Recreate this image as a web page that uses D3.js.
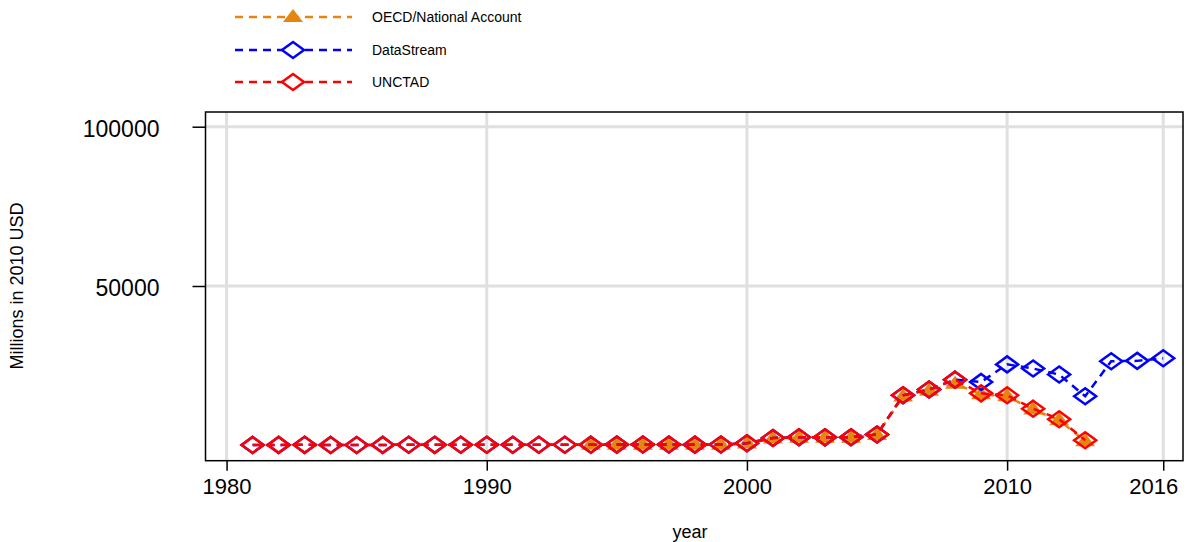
<!DOCTYPE html>
<html>
<head>
<meta charset="utf-8">
<script src="https://cdn.jsdelivr.net/npm/d3@7"></script>
<style>
  body { margin: 0; background: #fff; }
  svg text { font-family: "Liberation Sans", Arial, sans-serif; }
</style>
</head>
<body>
<div id="chart"></div>
<script>
// data
var yearsLong = [1981, 1982, 1983, 1984, 1985, 1986, 1987, 1988, 1989, 1990,
                 1991, 1992, 1993, 1994, 1995, 1996, 1997, 1998, 1999, 2000,
                 2001, 2002, 2003, 2004, 2005, 2006, 2007, 2008, 2009, 2010,
                 2011, 2012, 2013, 2014, 2015, 2016];
var dataStream = [120, 130, 140, 120, 110, 130, 150, 140, 160, 170,
                  150, 160, 180, 200, 220, 250, 240, 210, 230, 650,
                  2300, 2550, 2500, 2550, 3400, 15700, 17500, 20600, 19900, 25400,
                  24100, 22200, 15400, 26400, 26500, 27300];

var yearsUnctad = [1981, 1982, 1983, 1984, 1985, 1986, 1987, 1988, 1989, 1990,
                   1991, 1992, 1993, 1994, 1995, 1996, 1997, 1998, 1999, 2000,
                   2001, 2002, 2003, 2004, 2005, 2006, 2007, 2008, 2009, 2010,
                   2011, 2012, 2013];
var unctad = [120, 130, 140, 120, 110, 130, 150, 140, 160, 170,
              150, 160, 180, 200, 220, 250, 240, 210, 230, 650,
              2300, 2550, 2500, 2550, 3400, 15700, 17500, 20600, 16300, 15700,
              11500, 8200, 1600];

var yearsOecd = [1994, 1995, 1996, 1997, 1998, 1999, 2000, 2001, 2002, 2003,
                 2004, 2005, 2006, 2007, 2008, 2009, 2010, 2011, 2012, 2013];
var oecd = [150, 170, 200, 190, 160, 180, 550, 2100, 2400, 2350,
            2400, 3200, 15300, 17100, 19300, 16000, 15400, 11200, 7900, 1300];

var xTicks = [1980, 1990, 2000, 2010, 2016];
var yTicks = [50000, 100000];
var seriesNames = ["OECD/National Account", "DataStream", "UNCTAD"];

function init() {
    var w = 1186, h = 542;
    var orange = "#e6860e", blue = "#0000ff", red = "#ff0000";

    var svg = d3.select("#chart").append("svg")
        .attr("width", w).attr("height", h);

    var xScale = d3.scaleLinear().domain([1979.19, 2016.76]).range([205.5, 1183]);
    var yScale = d3.scaleLinear().domain([-4834, 104615]).range([460.7, 112]);

    // grid
    svg.append("g").selectAll("line").data(xTicks).enter().append("line")
        .attr("x1", function(d) { return xScale(d); })
        .attr("x2", function(d) { return xScale(d); })
        .attr("y1", yScale.range()[1]).attr("y2", yScale.range()[0])
        .attr("stroke", "#e0e0e0").attr("stroke-width", 3);
    svg.append("g").selectAll("line").data(yTicks).enter().append("line")
        .attr("y1", function(d) { return yScale(d); })
        .attr("y2", function(d) { return yScale(d); })
        .attr("x1", xScale.range()[0]).attr("x2", xScale.range()[1])
        .attr("stroke", "#e0e0e0").attr("stroke-width", 3);

    // axes
    var xAxis = d3.axisBottom(xScale).tickValues(xTicks).tickSize(10).tickPadding(10)
        .tickFormat(d3.format("d"));
    var gx = svg.append("g").attr("transform", "translate(0," + yScale.range()[0] + ")").call(xAxis);
    gx.select(".domain").remove();
    gx.selectAll("line").attr("stroke", "#000").attr("stroke-width", 1.5);
    gx.selectAll("text").attr("font-size", 22).attr("fill", "#000").attr("dy", "0.62em")
        .attr("dx", function(d) { return d === 2016 ? -10 : 0; });

    var yAxis = d3.axisLeft(yScale).tickValues(yTicks).tickSize(13).tickPadding(33)
        .tickFormat(d3.format("d"));
    var gy = svg.append("g").attr("transform", "translate(" + xScale.range()[0] + ",0)").call(yAxis);
    gy.select(".domain").remove();
    gy.selectAll("line").attr("stroke", "#000").attr("stroke-width", 1.5);
    gy.selectAll("text").attr("font-size", 23).attr("fill", "#000").attr("dy", "0.42em");

    // box
    svg.append("rect")
        .attr("x", xScale.range()[0]).attr("y", yScale.range()[1])
        .attr("width", xScale.range()[1] - xScale.range()[0])
        .attr("height", yScale.range()[0] - yScale.range()[1])
        .attr("fill", "none").attr("stroke", "#000").attr("stroke-width", 1.5);

    // titles
    svg.append("text").attr("x", 690).attr("y", 538).attr("text-anchor", "middle")
        .attr("font-size", 18).text("year");
    svg.append("text").attr("transform", "translate(23,286) rotate(-90)")
        .attr("text-anchor", "middle").attr("font-size", 18).text("Millions in 2010 USD");

    var diamond = "M0,-8L11,0L0,8L-11,0Z";
    var triangle = "M0,-8L10,5L-10,5Z";

    function drawSeries(xs, ys, color, shape, filled) {
        var pts = xs.map(function(d, i) { return { year: d, value: ys[i] }; });
        var line = d3.line()
            .x(function(d) { return xScale(d.year); })
            .y(function(d) { return yScale(d.value); });
        svg.append("path").datum(pts).attr("d", line)
            .attr("fill", "none").attr("stroke", color)
            .attr("stroke-width", 2.5).attr("stroke-dasharray", "8,6");
        svg.append("g").selectAll("path").data(pts).enter().append("path")
            .attr("transform", function(d) { return "translate(" + xScale(d.year) + "," + yScale(d.value) + ")"; })
            .attr("d", shape)
            .attr("fill", filled ? color : "none")
            .attr("stroke", filled ? "none" : color)
            .attr("stroke-width", 2.5);
    }

    drawSeries(yearsOecd, oecd, orange, triangle, true);
    drawSeries(yearsLong, dataStream, blue, diamond, false);
    drawSeries(yearsUnctad, unctad, red, diamond, false);

    // legend
    var legendColors = [orange, blue, red];
    var legendShapes = [triangle, diamond, diamond];
    var legendY = [17, 50, 82];
    seriesNames.forEach(function(name, i) {
        var g = svg.append("g");
        g.append("line").attr("x1", 235).attr("x2", 352)
            .attr("y1", legendY[i]).attr("y2", legendY[i])
            .attr("stroke", legendColors[i]).attr("stroke-width", 2.5)
            .attr("stroke-dasharray", "8,6");
        g.append("path").attr("transform", "translate(293," + legendY[i] + ")")
            .attr("d", legendShapes[i])
            .attr("fill", i === 0 ? legendColors[i] : "#fff")
            .attr("stroke", i === 0 ? "none" : legendColors[i])
            .attr("stroke-width", 2.5);
        g.append("text").attr("x", 372).attr("y", legendY[i]).attr("dy", "0.36em")
            .attr("font-size", 14).text(name);
    });
}
window.onload = init;
</script>
</body>
</html>
